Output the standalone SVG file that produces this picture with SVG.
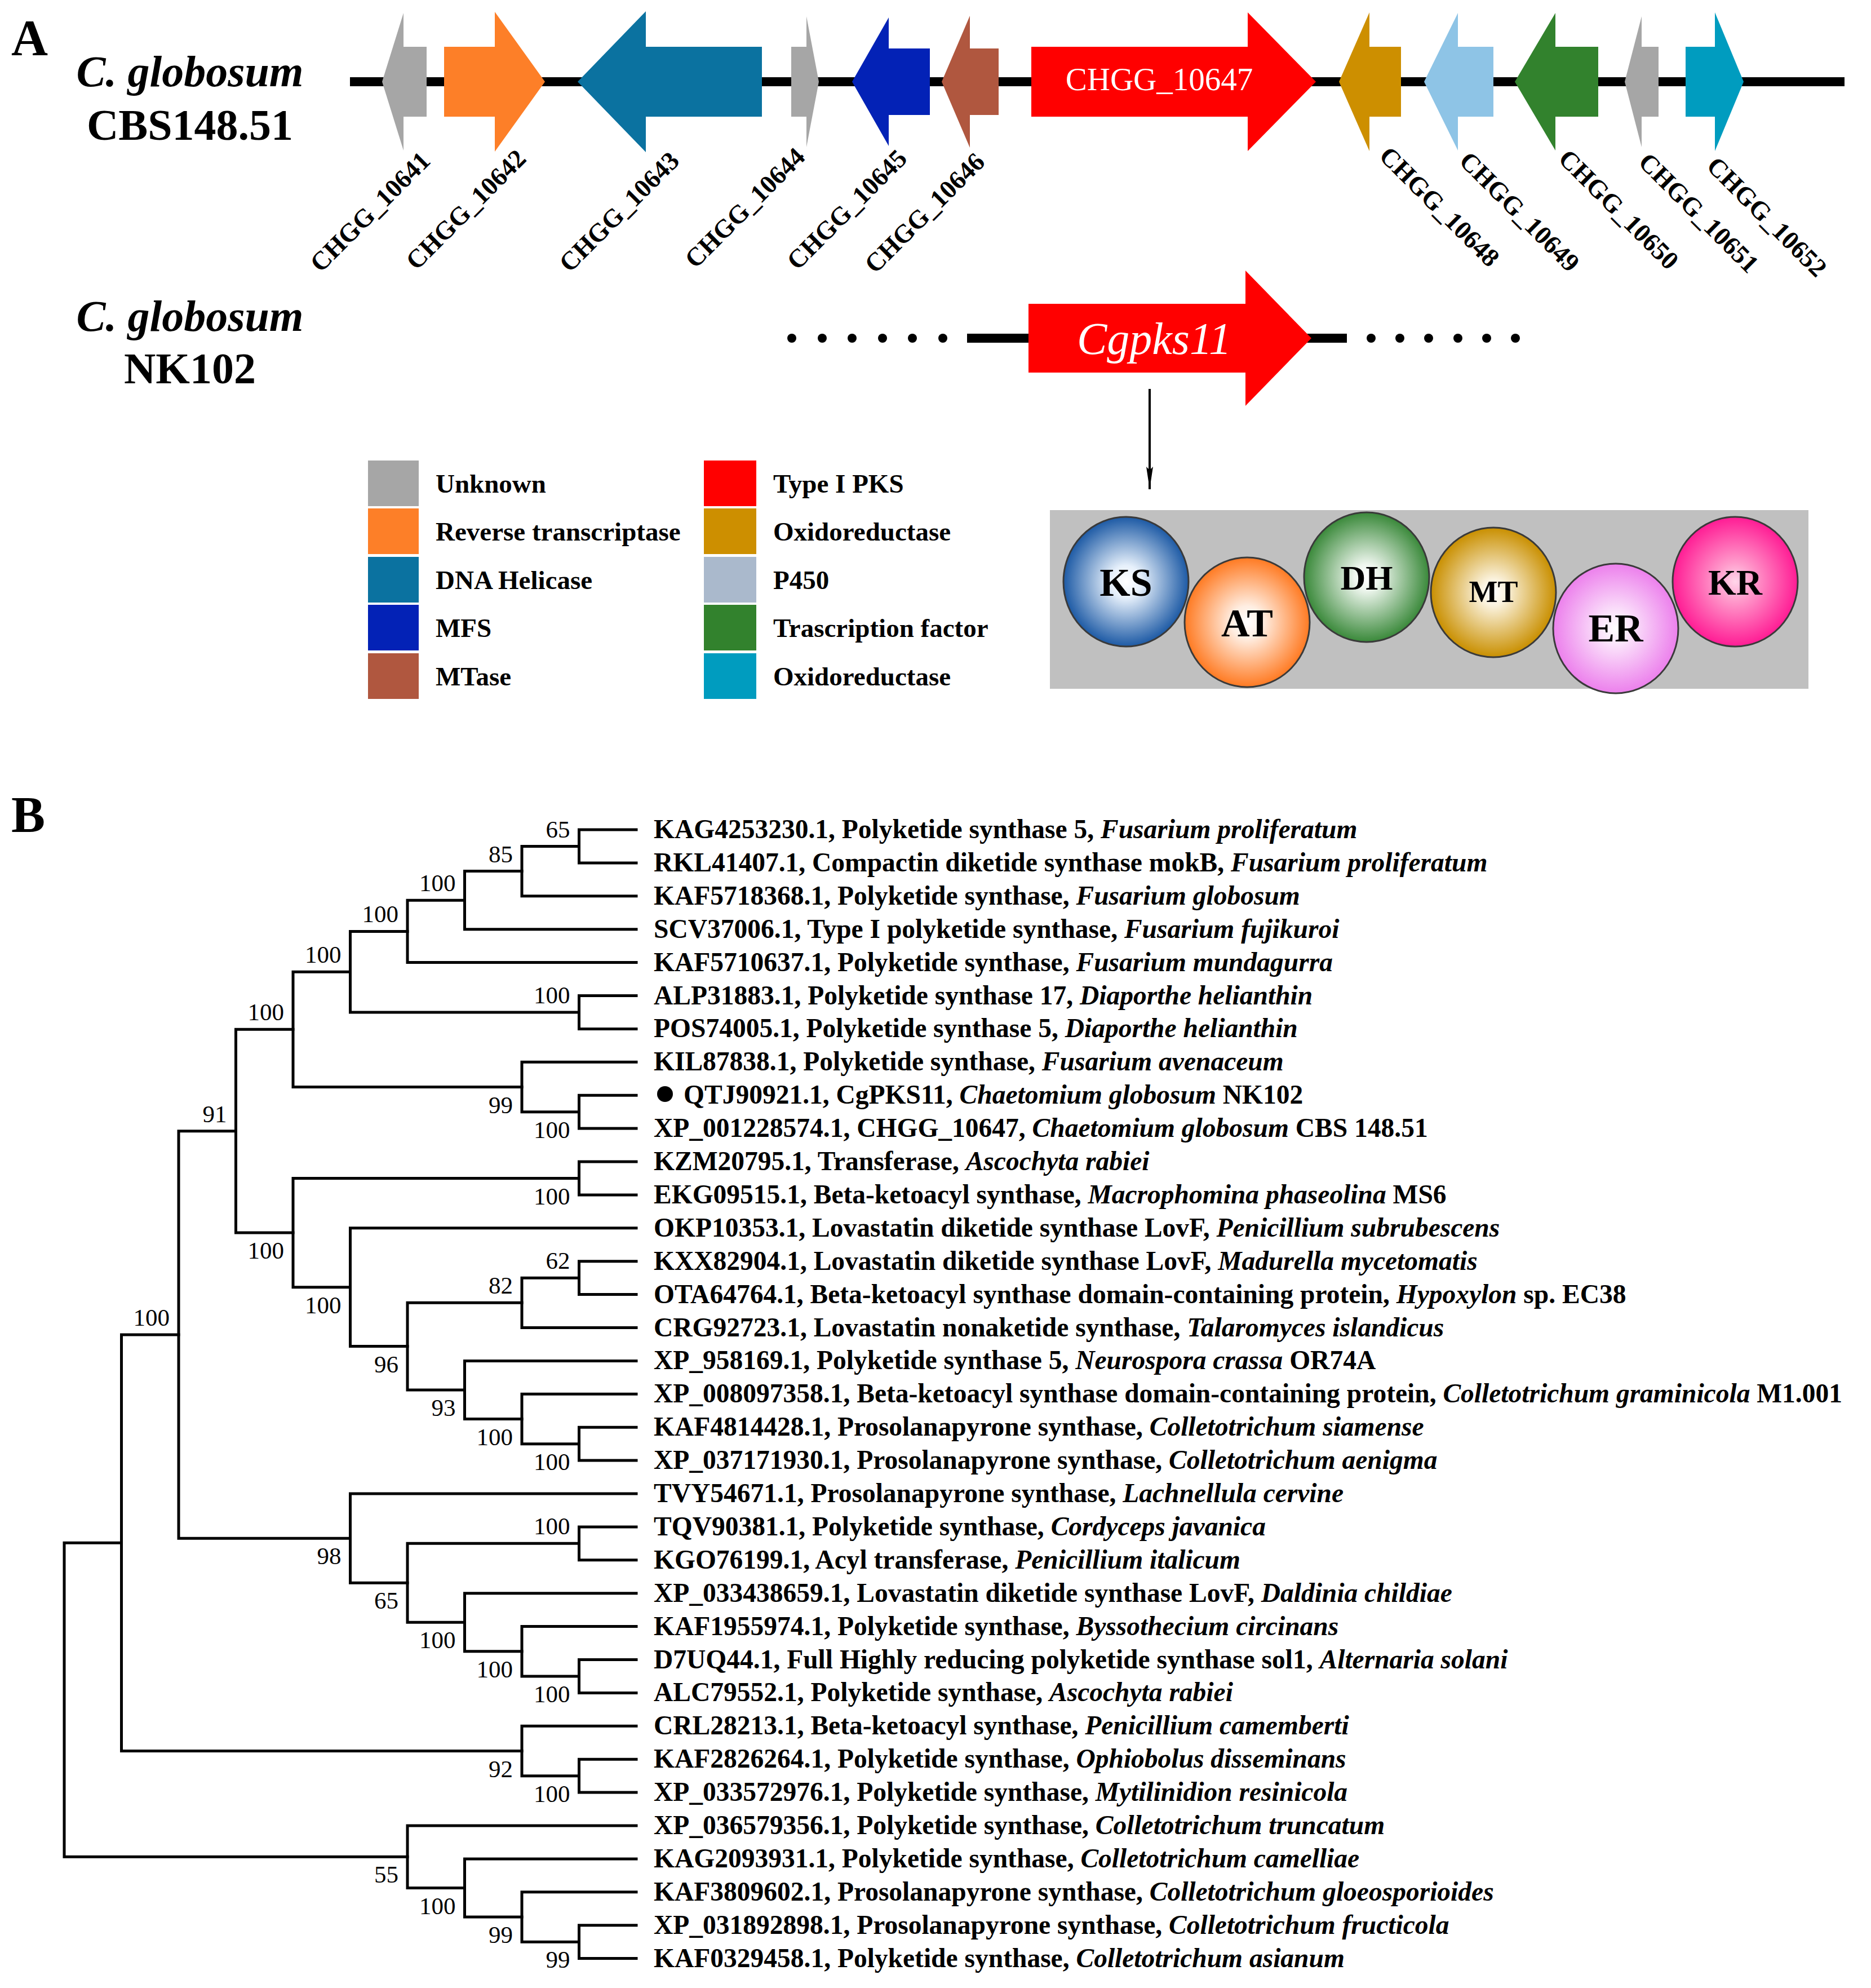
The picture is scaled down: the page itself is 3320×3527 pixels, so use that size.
<svg xmlns="http://www.w3.org/2000/svg" width="3320" height="3527" viewBox="0 0 3320 3527">
<style>
text{font-family:"Liberation Serif","Times New Roman",serif;fill:#000}
.b{font-weight:bold}
.it{font-style:italic}
.panel{font-size:90px;font-weight:bold}
.sp{font-size:78px;font-weight:bold;text-anchor:middle}
.gl{font-size:46px;font-weight:bold}
.lg{font-size:47px;font-weight:bold}
.dm{font-weight:bold;text-anchor:middle}
.leaf{font-size:47.5px;font-weight:bold}
.bs{font-size:43px;text-anchor:end}
.tree path{fill:none;stroke:#000;stroke-width:5;stroke-linecap:square;stroke-linejoin:miter}
.gray{fill:#a6a6a6}.orange{fill:#fd7f28}.teal{fill:#0b72a0}.blue{fill:#0322b6}.brown{fill:#b0573f}
.red{fill:#ff0000}.gold{fill:#cd8f00}.lblue{fill:#8ec4e6}.green{fill:#32822d}.cyan{fill:#009cbf}.p450{fill:#aab9cc}
.dom{stroke:#3a3a3a;stroke-width:3}
</style>
<defs>
<radialGradient id="gKS"><stop offset="0" stop-color="#ffffff"/><stop offset="0.25" stop-color="#e6f0fb"/><stop offset="1" stop-color="#1d5aa5"/></radialGradient>
<radialGradient id="gAT"><stop offset="0" stop-color="#ffffff"/><stop offset="0.25" stop-color="#ffeee2"/><stop offset="1" stop-color="#ff7a22"/></radialGradient>
<radialGradient id="gDH"><stop offset="0" stop-color="#ffffff"/><stop offset="0.2" stop-color="#eef6ee"/><stop offset="1" stop-color="#3a893a"/></radialGradient>
<radialGradient id="gMT"><stop offset="0" stop-color="#ffffff"/><stop offset="0.2" stop-color="#fbf3df"/><stop offset="1" stop-color="#c98f00"/></radialGradient>
<radialGradient id="gER"><stop offset="0" stop-color="#ffffff"/><stop offset="0.25" stop-color="#fbe4fb"/><stop offset="1" stop-color="#ec80ec"/></radialGradient>
<radialGradient id="gKR"><stop offset="0" stop-color="#ffd6ea"/><stop offset="0.3" stop-color="#ff9acb"/><stop offset="1" stop-color="#ff1c94"/></radialGradient>
<marker id="ah" viewBox="0 0 40 12" refX="40" refY="6" markerWidth="40" markerHeight="12" markerUnits="userSpaceOnUse" orient="auto">
<path d="M0,0 L40,6 L0,12 L6,6 Z" fill="#000"/>
</marker>
</defs>

<!-- Panel A -->
<text class="panel" x="20" y="98">A</text>
<g id="label-cbs">
<text class="sp" x="337" y="153"><tspan class="it">C. globosum</tspan></text>
<text class="sp" x="337" y="248">CBS148.51</text>
</g>
<g id="label-nk102">
<text class="sp" x="337" y="587"><tspan class="it">C. globosum</tspan></text>
<text class="sp" x="337" y="680">NK102</text>
</g>

<g id="cluster">
<line x1="621" y1="145" x2="3273" y2="145" stroke="#000" stroke-width="16"/>
<g id="g10641"><polygon class="gray" points="678,145 716,23 716,83 757,83 757,207 716,207 716,267"/><text class="gl" transform="translate(766,288) rotate(-45)" text-anchor="end">CHGG_10641</text></g>
<g id="g10642"><polygon class="orange" points="788,83 878,83 878,21 967,145 878,269 878,207 788,207"/><text class="gl" transform="translate(936,284) rotate(-45)" text-anchor="end">CHGG_10642</text></g>
<g id="g10643"><polygon class="teal" points="1025,145 1146,20 1146,83 1352,83 1352,207 1146,207 1146,270"/><text class="gl" transform="translate(1208,288) rotate(-45)" text-anchor="end">CHGG_10643</text></g>
<g id="g10644"><polygon class="gray" points="1404,83 1431,83 1431,29 1453,145 1431,261 1431,207 1404,207"/><text class="gl" transform="translate(1431,281) rotate(-45)" text-anchor="end">CHGG_10644</text></g>
<g id="g10645"><polygon class="blue" points="1512,145 1577,31 1577,86 1650,86 1650,204 1577,204 1577,259"/><text class="gl" transform="translate(1612,284) rotate(-45)" text-anchor="end">CHGG_10645</text></g>
<g id="g10646"><polygon class="brown" points="1671,145 1721,28 1721,86 1772,86 1772,204 1721,204 1721,262"/><text class="gl" transform="translate(1750,290) rotate(-45)" text-anchor="end">CHGG_10646</text></g>
<g id="g10647"><polygon class="red" points="1830,83 2214,83 2214,22 2335,145 2214,268 2214,207 1830,207"/><text x="2057" y="160" font-size="57" text-anchor="middle" style="fill:#fff">CHGG_10647</text></g>
<g id="g10648"><polygon class="gold" points="2376,145 2430,22 2430,83 2486,83 2486,207 2430,207 2430,268"/><text class="gl" transform="translate(2445,279) rotate(45)">CHGG_10648</text></g>
<g id="g10649"><polygon class="lblue" points="2527,145 2587,23 2587,83 2650,83 2650,207 2587,207 2587,267"/><text class="gl" transform="translate(2587,288) rotate(45)">CHGG_10649</text></g>
<g id="g10650"><polygon class="green" points="2688,145 2760,23 2760,83 2836,83 2836,207 2760,207 2760,267"/><text class="gl" transform="translate(2763,284) rotate(45)">CHGG_10650</text></g>
<g id="g10651"><polygon class="gray" points="2883,145 2913,29 2913,83 2943,83 2943,207 2913,207 2913,261"/><text class="gl" transform="translate(2905,290) rotate(45)">CHGG_10651</text></g>
<g id="g10652"><polygon class="cyan" points="2991,83 3043,83 3043,22 3094,145 3043,268 3043,207 2991,207"/><text class="gl" transform="translate(3026,297) rotate(45)">CHGG_10652</text></g>
</g>

<g id="nk102-row">
<g fill="#000">
<circle cx="1405" cy="600" r="8"/><circle cx="1459" cy="600" r="8"/><circle cx="1512" cy="600" r="8"/><circle cx="1566" cy="600" r="8"/><circle cx="1619" cy="600" r="8"/><circle cx="1673" cy="600" r="8"/>
<circle cx="2433" cy="600" r="8"/><circle cx="2484" cy="600" r="8"/><circle cx="2535" cy="600" r="8"/><circle cx="2587" cy="600" r="8"/><circle cx="2638" cy="600" r="8"/><circle cx="2689" cy="600" r="8"/>
</g>
<line x1="1716" y1="600" x2="2390" y2="600" stroke="#000" stroke-width="16"/>
<g id="cgpks11"><polygon class="red" points="1825,539 2210,539 2210,480 2327,600 2210,720 2210,661 1825,661"/>
<text x="2048" y="628" font-size="80" text-anchor="middle" class="it" style="fill:#fff">Cgpks11</text></g>
</g>

<g id="connectors">
<line x1="2040" y1="690" x2="2040" y2="868" stroke="#000" stroke-width="4" marker-end="url(#ah)"/>
</g>

<g id="legend">
<rect class="gray" x="653" y="817" width="90" height="81"/><text class="lg" x="773" y="874">Unknown</text>
<rect class="orange" x="653" y="902" width="90" height="81"/><text class="lg" x="773" y="959">Reverse transcriptase</text>
<rect class="teal" x="653" y="988" width="90" height="81"/><text class="lg" x="773" y="1045">DNA Helicase</text>
<rect class="blue" x="653" y="1073" width="90" height="81"/><text class="lg" x="773" y="1130">MFS</text>
<rect class="brown" x="653" y="1159" width="90" height="81"/><text class="lg" x="773" y="1216">MTase</text>
<rect class="red" x="1249" y="817" width="93" height="81"/><text class="lg" x="1372" y="874">Type I PKS</text>
<rect class="gold" x="1249" y="902" width="93" height="81"/><text class="lg" x="1372" y="959">Oxidoreductase</text>
<rect class="p450" x="1249" y="988" width="93" height="81"/><text class="lg" x="1372" y="1045">P450</text>
<rect class="green" x="1249" y="1073" width="93" height="81"/><text class="lg" x="1372" y="1130">Trascription factor</text>
<rect class="cyan" x="1249" y="1159" width="93" height="81"/><text class="lg" x="1372" y="1216">Oxidoreductase</text>
</g>

<g id="domains">
<rect x="1863" y="905" width="1346" height="317" fill="#c0c0c0"/>
<g id="KS"><ellipse class="dom" cx="1998" cy="1032" rx="111" ry="115" fill="url(#gKS)"/><text class="dm" x="1998" y="1057" font-size="70">KS</text></g>
<g id="AT"><ellipse class="dom" cx="2213" cy="1104" rx="111" ry="115" fill="url(#gAT)"/><text class="dm" x="2213" y="1129" font-size="70">AT</text></g>
<g id="DH"><ellipse class="dom" cx="2425" cy="1024" rx="111" ry="115" fill="url(#gDH)"/><text class="dm" x="2425" y="1046" font-size="62">DH</text></g>
<g id="MT"><ellipse class="dom" cx="2650" cy="1051" rx="111" ry="115" fill="url(#gMT)"/><text class="dm" x="2650" y="1068" font-size="54">MT</text></g>
<g id="ER"><ellipse class="dom" cx="2867" cy="1115" rx="111" ry="115" fill="url(#gER)"/><text class="dm" x="2867" y="1138" font-size="70">ER</text></g>
<g id="KR"><ellipse class="dom" cx="3079" cy="1032" rx="111" ry="115" fill="url(#gKR)"/><text class="dm" x="3079" y="1055" font-size="64">KR</text></g>
</g>

<!-- Panel B -->
<text class="panel" x="20" y="1476">B</text>

<g class="tree" id="tree-branches">
<path d="M1129 1472 H1027.5 V1530.9 H1129"/>
<path d="M1027.5 1501.45 H926 V1589.8 H1129"/>
<path d="M926 1545.6 H824.5 V1648.7 H1129"/>
<path d="M824.5 1597.2 H723 V1707.6 H1129"/>
<path d="M1129 1766.5 H1027.5 V1825.4 H1129"/>
<path d="M723 1652.4 H621.5 V1796 H1027.5"/>
<path d="M1129 1943.2 H1027.5 V2002.1 H1129"/>
<path d="M1129 1884.3 H926 V1972.65 H1027.5"/>
<path d="M621.5 1724.2 H520 V1928.5 H926"/>
<path d="M1129 2061 H1027.5 V2119.9 H1129"/>
<path d="M1129 2237.7 H1027.5 V2296.6 H1129"/>
<path d="M1027.5 2267.15 H926 V2355.5 H1129"/>
<path d="M1129 2532.2 H1027.5 V2591.1 H1129"/>
<path d="M1129 2473.3 H926 V2561.65 H1027.5"/>
<path d="M1129 2414.4 H824.5 V2517.5 H926"/>
<path d="M926 2311.3 H723 V2465.95 H824.5"/>
<path d="M1129 2178.8 H621.5 V2388.6 H723"/>
<path d="M1027.5 2090.45 H520 V2283.7 H621.5"/>
<path d="M520 1826.35 H418.5 V2187.1 H520"/>
<path d="M1129 2708.9 H1027.5 V2767.8 H1129"/>
<path d="M1129 2944.5 H1027.5 V3003.4 H1129"/>
<path d="M1129 2885.6 H926 V2973.95 H1027.5"/>
<path d="M1129 2826.7 H824.5 V2929.8 H926"/>
<path d="M1027.5 2738.35 H723 V2878.25 H824.5"/>
<path d="M1129 2650 H621.5 V2808.3 H723"/>
<path d="M418.5 2006.7 H317 V2729.15 H621.5"/>
<path d="M1129 3121.2 H1027.5 V3180.1 H1129"/>
<path d="M1129 3062.3 H926 V3150.65 H1027.5"/>
<path d="M317 2367.9 H215.5 V3106.5 H926"/>
<path d="M1129 3415.7 H1027.5 V3474.6 H1129"/>
<path d="M1129 3356.8 H926 V3445.15 H1027.5"/>
<path d="M1129 3297.9 H824.5 V3401 H926"/>
<path d="M1129 3239 H723 V3349.45 H824.5"/>
<path d="M215.5 2737.2 H114 V3294.2 H723"/>
</g>

<g id="bootstrap">
<text class="bs" x="1011.5" y="1485.5">65</text>
<text class="bs" x="910" y="1529.6">85</text>
<text class="bs" x="808.5" y="1581.2">100</text>
<text class="bs" x="707" y="1636.4">100</text>
<text class="bs" x="1011.5" y="1780">100</text>
<text class="bs" x="605.5" y="1708.2">100</text>
<text class="bs" x="504" y="1810.4">100</text>
<text class="bs" x="402.5" y="1990.7">91</text>
<text class="bs" x="910" y="1974.5">99</text>
<text class="bs" x="1011.5" y="2018.7">100</text>
<text class="bs" x="1011.5" y="2136.5">100</text>
<text class="bs" x="504" y="2233.1">100</text>
<text class="bs" x="605.5" y="2329.7">100</text>
<text class="bs" x="707" y="2434.6">96</text>
<text class="bs" x="1011.5" y="2251.2">62</text>
<text class="bs" x="910" y="2295.3">82</text>
<text class="bs" x="808.5" y="2512">93</text>
<text class="bs" x="910" y="2563.5">100</text>
<text class="bs" x="1011.5" y="2607.7">100</text>
<text class="bs" x="301" y="2351.9">100</text>
<text class="bs" x="605.5" y="2775.2">98</text>
<text class="bs" x="1011.5" y="2722.4">100</text>
<text class="bs" x="707" y="2854.3">65</text>
<text class="bs" x="808.5" y="2924.3">100</text>
<text class="bs" x="910" y="2975.8">100</text>
<text class="bs" x="1011.5" y="3020">100</text>
<text class="bs" x="910" y="3152.5">92</text>
<text class="bs" x="1011.5" y="3196.7">100</text>
<text class="bs" x="707" y="3340.2">55</text>
<text class="bs" x="808.5" y="3395.5">100</text>
<text class="bs" x="910" y="3447">99</text>
<text class="bs" x="1011.5" y="3491.2">99</text>
</g>

<g id="leaves">
<text class="leaf" x="1160" y="1487">KAG4253230.1, Polyketide synthase 5, <tspan class="it">Fusarium proliferatum</tspan></text>
<text class="leaf" x="1160" y="1545.9">RKL41407.1, Compactin diketide synthase mokB, <tspan class="it">Fusarium proliferatum</tspan></text>
<text class="leaf" x="1160" y="1604.8">KAF5718368.1, Polyketide synthase, <tspan class="it">Fusarium globosum</tspan></text>
<text class="leaf" x="1160" y="1663.7">SCV37006.1, Type I polyketide synthase, <tspan class="it">Fusarium fujikuroi</tspan></text>
<text class="leaf" x="1160" y="1722.6">KAF5710637.1, Polyketide synthase, <tspan class="it">Fusarium mundagurra</tspan></text>
<text class="leaf" x="1160" y="1781.5">ALP31883.1, Polyketide synthase 17, <tspan class="it">Diaporthe helianthin</tspan></text>
<text class="leaf" x="1160" y="1840.4">POS74005.1, Polyketide synthase 5, <tspan class="it">Diaporthe helianthin</tspan></text>
<text class="leaf" x="1160" y="1899.3">KIL87838.1, Polyketide synthase, <tspan class="it">Fusarium avenaceum</tspan></text>
<circle cx="1180" cy="1941" r="14" fill="#000"/>
<text class="leaf" x="1213" y="1958.2">QTJ90921.1, CgPKS11, <tspan class="it">Chaetomium globosum</tspan> NK102</text>
<text class="leaf" x="1160" y="2017.1">XP_001228574.1, CHGG_10647, <tspan class="it">Chaetomium globosum</tspan> CBS 148.51</text>
<text class="leaf" x="1160" y="2076">KZM20795.1, Transferase, <tspan class="it">Ascochyta rabiei</tspan></text>
<text class="leaf" x="1160" y="2134.9">EKG09515.1, Beta-ketoacyl synthase, <tspan class="it">Macrophomina phaseolina</tspan> MS6</text>
<text class="leaf" x="1160" y="2193.8">OKP10353.1, Lovastatin diketide synthase LovF, <tspan class="it">Penicillium subrubescens</tspan></text>
<text class="leaf" x="1160" y="2252.7">KXX82904.1, Lovastatin diketide synthase LovF, <tspan class="it">Madurella mycetomatis</tspan></text>
<text class="leaf" x="1160" y="2311.6">OTA64764.1, Beta-ketoacyl synthase domain-containing protein, <tspan class="it">Hypoxylon</tspan> sp. EC38</text>
<text class="leaf" x="1160" y="2370.5">CRG92723.1, Lovastatin nonaketide synthase, <tspan class="it">Talaromyces islandicus</tspan></text>
<text class="leaf" x="1160" y="2429.4">XP_958169.1, Polyketide synthase 5, <tspan class="it">Neurospora crassa</tspan> OR74A</text>
<text class="leaf" x="1160" y="2488.3">XP_008097358.1, Beta-ketoacyl synthase domain-containing protein, <tspan class="it">Colletotrichum graminicola</tspan> M1.001</text>
<text class="leaf" x="1160" y="2547.2">KAF4814428.1, Prosolanapyrone synthase, <tspan class="it">Colletotrichum siamense</tspan></text>
<text class="leaf" x="1160" y="2606.1">XP_037171930.1, Prosolanapyrone synthase, <tspan class="it">Colletotrichum aenigma</tspan></text>
<text class="leaf" x="1160" y="2665">TVY54671.1, Prosolanapyrone synthase, <tspan class="it">Lachnellula cervine</tspan></text>
<text class="leaf" x="1160" y="2723.9">TQV90381.1, Polyketide synthase, <tspan class="it">Cordyceps javanica</tspan></text>
<text class="leaf" x="1160" y="2782.8">KGO76199.1, Acyl transferase, <tspan class="it">Penicillium italicum</tspan></text>
<text class="leaf" x="1160" y="2841.7">XP_033438659.1, Lovastatin diketide synthase LovF, <tspan class="it">Daldinia childiae</tspan></text>
<text class="leaf" x="1160" y="2900.6">KAF1955974.1, Polyketide synthase, <tspan class="it">Byssothecium circinans</tspan></text>
<text class="leaf" x="1160" y="2959.5">D7UQ44.1, Full Highly reducing polyketide synthase sol1, <tspan class="it">Alternaria solani</tspan></text>
<text class="leaf" x="1160" y="3018.4">ALC79552.1, Polyketide synthase, <tspan class="it">Ascochyta rabiei</tspan></text>
<text class="leaf" x="1160" y="3077.3">CRL28213.1, Beta-ketoacyl synthase, <tspan class="it">Penicillium camemberti</tspan></text>
<text class="leaf" x="1160" y="3136.2">KAF2826264.1, Polyketide synthase, <tspan class="it">Ophiobolus disseminans</tspan></text>
<text class="leaf" x="1160" y="3195.1">XP_033572976.1, Polyketide synthase, <tspan class="it">Mytilinidion resinicola</tspan></text>
<text class="leaf" x="1160" y="3254">XP_036579356.1, Polyketide synthase, <tspan class="it">Colletotrichum truncatum</tspan></text>
<text class="leaf" x="1160" y="3312.9">KAG2093931.1, Polyketide synthase, <tspan class="it">Colletotrichum camelliae</tspan></text>
<text class="leaf" x="1160" y="3371.8">KAF3809602.1, Prosolanapyrone synthase, <tspan class="it">Colletotrichum gloeosporioides</tspan></text>
<text class="leaf" x="1160" y="3430.7">XP_031892898.1, Prosolanapyrone synthase, <tspan class="it">Colletotrichum fructicola</tspan></text>
<text class="leaf" x="1160" y="3489.6">KAF0329458.1, Polyketide synthase, <tspan class="it">Colletotrichum asianum</tspan></text>
</g>
</svg>
